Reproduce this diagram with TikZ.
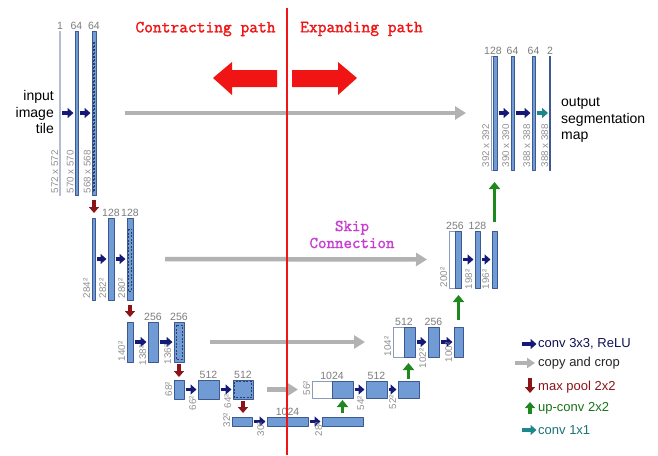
\documentclass[tikz,border=0pt]{standalone}
\usepackage{fontspec}
\setsansfont{Liberation Sans}
\newfontfamily\pathfont[FakeBold=1.6]{Latin Modern Mono}
\usetikzlibrary{arrows.meta,fit,positioning}

\definecolor{blkfill}{RGB}{112,155,212}
\definecolor{blkline}{RGB}{60,90,145}
\definecolor{convcol}{RGB}{20,25,120}
\definecolor{copycol}{RGB}{178,178,178}
\definecolor{poolcol}{RGB}{140,20,25}
\definecolor{upcol}{RGB}{30,135,30}
\definecolor{onecol}{RGB}{30,135,140}
\definecolor{numcol}{RGB}{125,125,125}
\definecolor{pathred}{RGB}{240,20,20}
\definecolor{skipcol}{RGB}{200,60,210}

\begin{document}
\begin{tikzpicture}[x=1pt, y=-1pt, line join=round, font=\sffamily,
    blk/.style={draw=blkline, fill=blkfill, line width=.6pt, inner sep=0pt, outer sep=0pt},
    wblk/.style={blk, fill=white, draw=blkline!60},
    lineblk/.style={draw=#1, fill=#1, line width=.4pt, inner sep=0pt, outer sep=0pt},
    num/.style={text=numcol, font=\sffamily\fontsize{10.5}{10.5}\selectfont, inner sep=1pt},
    sizelbl/.style={text=numcol!85, font=\sffamily\fontsize{9.8}{9.8}\selectfont, rotate=90, anchor=south west, inner sep=.5pt},
    crop/.style={draw=blkline!70!black, line width=.6pt, dash pattern=on 2pt off 1.5pt},
    conv/.style={draw=convcol, line width=3.3pt, -{Triangle[length=6pt,width=10pt]}, shorten <=1.5pt, shorten >=1.5pt},
    onebyone/.style={conv, draw=onecol},
    copyarr/.style={draw=copycol, line width=4.5pt, -{Triangle[length=11pt,width=13pt]}},
    pool/.style={draw=poolcol, line width=3.6pt, -{Triangle[length=6pt,width=10pt]}},
    upconv/.style={draw=upcol, line width=3.6pt, -{Triangle[length=7pt,width=11pt]}},
    legtxt/.style={anchor=west, inner sep=0pt, font=\sffamily\fontsize{13}{13}\selectfont},
    pathlbl/.style={text=pathred, font=\pathfont\fontsize{17}{17}\selectfont},
    sidetxt/.style={font=\sffamily\fontsize{14}{16.5}\selectfont, inner sep=0pt}]
\useasboundingbox (0,0) rectangle (658,455);
\fill[white] (0,0) rectangle (658,455);

% contracting side
\node[lineblk=blkline!40, fit={(59.6,31) (60.4,195)}] (d11) {};
\foreach \n/\xa/\ya/\xb/\yb in {d12/75/31/78/195, d13/92/31/96/195,
    d21/92/218/95/300, d22/108/218/114/300, d23/127/218/133/300,
    d31/127/322/133/362, d32/148/322/158/362, d33/174/322/184/362,
    d41/174/380/184/399, d42/198/380/219/399, d43/233/380/253/399,
    d51/232/417/252/426, d52/267/417/308/426, d53/322/417/363/426}
  \node[blk, fit={(\xa,\ya) (\xb,\yb)}] (\n) {};

% expanding side (white part = copied feature map)
\foreach \n/\xa/\ya/\xb/\yb in {u41w/312/381/332/398, u31w/393/327/404/357,
    u21w/449/231/455/288, u11w/491/56/493/170}
  \node[wblk, fit={(\xa,\ya) (\xb,\yb)}] (\n) {};
\foreach \n/\xa/\ya/\xb/\yb in {u41/332/381/353/398, u42/366/381/387/398, u43/398/381/419/398,
    u31/404/327/415/357, u32/428/327/439/357, u33/454/327/463/357,
    u21/455/231/461/288, u22/475/231/480/288, u23/492/231/497/288,
    u11/493/56/497/170, u12/511/56/514/170, u13/532/56/535/170}
  \node[blk, fit={(\xa,\ya) (\xb,\yb)}] (\n) {};
\node[lineblk=blkline, fit={(549.6,56) (550.4,170)}] (u14) {};

% cropped maps
\foreach \n/\dt/\db/\dx in {d13/11pt/4pt/1.3pt, d23/11pt/9pt/1.3pt, d33/3pt/3pt/2pt, d43/1.5pt/1.5pt/1.5pt}
  \draw[crop] ([shift={(\dx,-\dt)}]\n.north west) rectangle ([shift={(-\dx,\db)}]\n.south east);

% channel numbers
\foreach \n/\t in {d11/1, d12/64, d13/64, d22/128, d23/128, d32/256, d33/256,
    d42/512, d43/512, d52/1024, u42/512, u32/256, u22/128, u12/64, u13/64, u14/2}
  \node[num, above] (c\n) at (\n.north) {\t};
\foreach \n/\t in {u41w/1024, u31w/512, u21w/256, u11w/128}
  \node[num, above] (c\n) at (\n.north east) {\t};

% conv 3x3
\foreach \a/\b in {d11/d12, d12/d13, d21/d22, d22/d23, d31/d32, d32/d33, d41/d42, d42/d43,
    d51/d52, d52/d53, u41/u42, u42/u43, u31/u32, u32/u33, u21/u22, u22/u23, u11/u12, u12/u13}
  \draw[conv] (\a.east) -- (\b.west);
\draw[onebyone] (u13.east) -- (u14.west);

% map sizes
\foreach \i/\x/\y/\t in {s11/59/194/572 x 572, s12/74.5/194/570 x 570, s13/91.5/194/568 x 568,
    s21/91/299/284², s22/107/299/282², s23/126/299/280²,
    s31/126/362/140², s32/147/366/138², s33/172/365/136²,
    s41/173/397/68², s42/197/411/66², s43/232/409/64²,
    s51/231/428/32², s52/265/437/30², s53/323/437/28²,
    t41/311/396/56², t42/365/411/54², t43/397/410/52²,
    t31/392/357/104², t32/427/369/102², t33/453/363/100²,
    t21/448/288/200², t22/473/290/198², t23/490/290/196²,
    t11/490/168/392 x 392, t12/510/168/390 x 390, t13/531/168/388 x 388, t14/549/168/388 x 388}
  \node[sizelbl] (\i) at (\x,\y) {\t};

% copy and crop
\foreach \a/\b/\sa/\sb in {d13/u11w/29pt/25pt, d23/u21w/32pt/22pt, d33/u31w/26pt/28pt, d43/u41w/14pt/14pt}
  \draw[copyarr, shorten <=\sa, shorten >=\sb] (\a.east) -- (\b.west);

% max pool
\foreach \a/\b/\sa/\sb in {d13/d21/5pt/5pt, d23/d31/5pt/5pt, d33/d41/1.5pt/3pt, d43/d51/1.5pt/4pt}
  \draw[pool, shorten <=\sa, shorten >=\sb] (\a.south) -- (\a.south |- \b.north);

% up-conv
\draw[upconv, shorten <=4pt, shorten >=2pt] (u41.south |- d53.north) -- (u41.south);
\foreach \a/\b/\sa/\sb in {u43/u31/2pt/6pt, u33/u21/7pt/7pt, u23/u11/9pt/12pt}
  \draw[upconv, shorten <=\sa, shorten >=\sb] (\a.north) -- (\a.north |- \b.south);

\node[sidetxt, align=right, anchor=east] (inp) at (54,112) {input\\image\\tile};
\node[sidetxt, align=left, anchor=west] (outp) at (561,120) {output\\segmentation\\map};

% legend
\node[legtxt, text=convcol!70!black] (g1) at (538,344) {conv 3x3, ReLU};
\node[legtxt, text=black!85] (g2) at (538,363) {copy and crop};
\node[legtxt, text=poolcol] (g3) at (538,387) {max pool 2x2};
\node[legtxt, text=upcol!85!black] (g4) at (538,408) {up-conv 2x2};
\node[legtxt, text=onecol!85!black] (g5) at (538,430) {conv 1x1};
\draw[conv, shorten <=0pt] ([xshift=-16pt]g1.west) -- (g1.west);
\draw[copyarr, line width=3.5pt, -{Triangle[length=8pt,width=10pt]}] ([xshift=-23pt]g2.west) -- ([xshift=-3pt]g2.west);
\draw[pool] ([xshift=-8pt,yshift=9pt]g3.west) -- ([xshift=-8pt,yshift=-6pt]g3.west);
\draw[upconv, -{Triangle[length=6pt,width=10pt]}] ([xshift=-8pt,yshift=-6pt]g4.west) -- ([xshift=-8pt,yshift=6pt]g4.west);
\draw[onebyone, shorten <=0pt] ([xshift=-16pt]g5.west) -- (g5.west);

% contracting / expanding split
\draw[pathred, line width=2pt] (287,8) -- (287,455);
\node[pathlbl] (tc) at (205.5,29) {Contracting path};
\node[pathlbl] (te) at (361.5,29) {Expanding path};
\fill[pathred] (213,78) -- (232,62) -- (232,70) -- (277,70) -- (277,87) -- (232,87) -- (232,95) -- cycle;
\fill[pathred] (357,78) -- (338,62) -- (338,70) -- (292,70) -- (292,87) -- (338,87) -- (338,95) -- cycle;

\node[text=skipcol, align=center, font=\pathfont\fontsize{16.5}{17}\selectfont] (sk) at (352,234.5) {Skip\\Connection};
\end{tikzpicture}
\end{document}
